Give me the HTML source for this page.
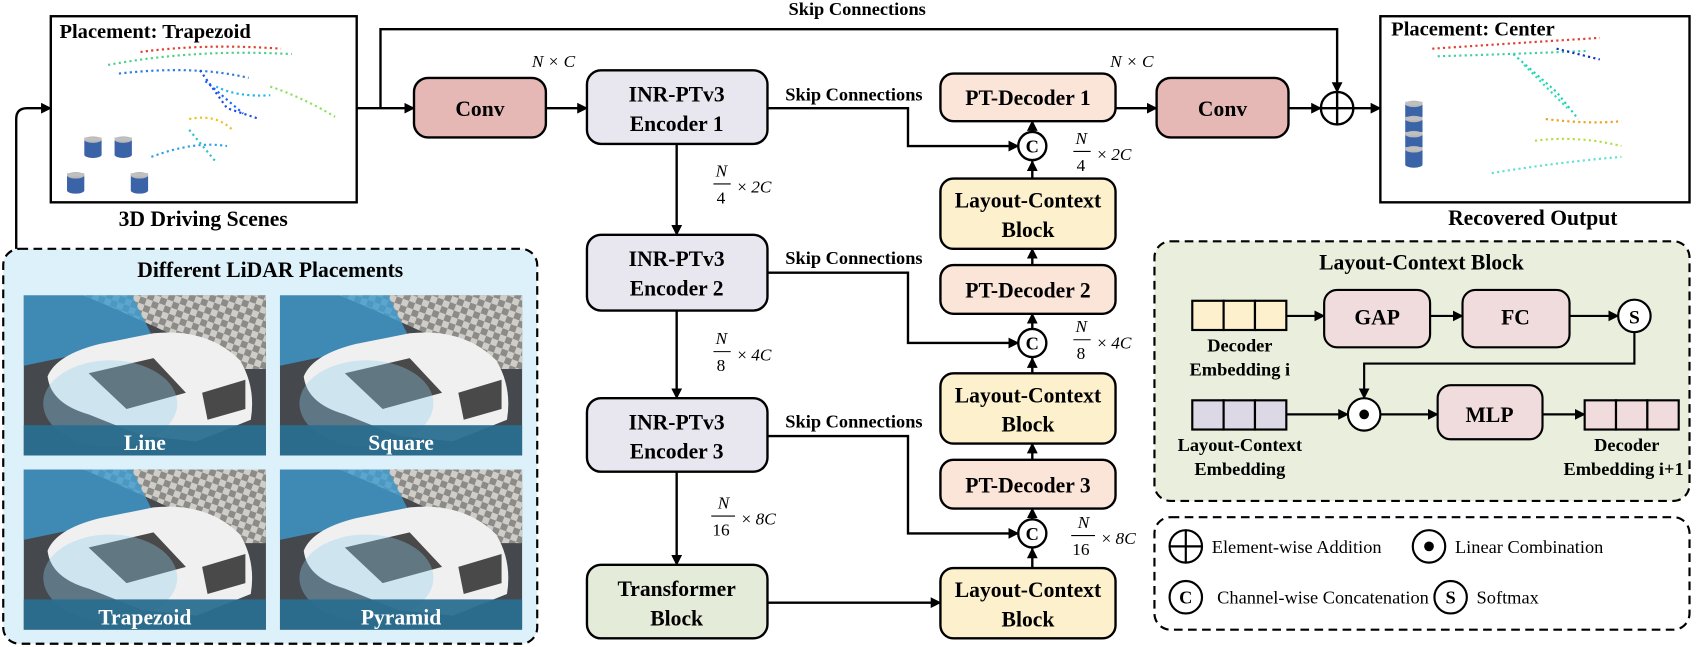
<!DOCTYPE html>
<html><head><meta charset="utf-8"><style>
html,body{margin:0;padding:0;background:#fff;}
svg{display:block;}
text{font-family:"Liberation Serif",serif;}
.b{font-weight:bold;font-size:20px;text-anchor:middle;}
.m{font-style:italic;font-size:16px;}
.n{font-size:17px;}
</style></head><body>
<svg width="1696" height="647" viewBox="0 0 1569 598" preserveAspectRatio="none" xmlns="http://www.w3.org/2000/svg">
<defs>
<marker id="a" markerWidth="10" markerHeight="10" refX="9" refY="5" orient="auto" markerUnits="userSpaceOnUse"><path d="M0,0 L10,5 L0,10 z" fill="#000"/></marker>
<pattern id="chk" width="12" height="12" patternUnits="userSpaceOnUse" patternTransform="rotate(20)"><rect width="12" height="12" fill="#8d8b88"/><rect width="6" height="6" fill="#cfcdc8"/><rect x="6" y="6" width="6" height="6" fill="#cfcdc8"/></pattern>
<g id="tile">
<rect x="0" y="0" width="224" height="148" fill="#45484c"/>
<path d="M55,0 L224,0 L224,68 L200,68 Q150,40 55,0 Z" fill="url(#chk)"/>
<path d="M0,0 L100,0 L120,40 L0,65 Z" fill="#3d9bd0" opacity="0.8"/>
<path d="M22,75 Q30,55 70,45 L120,35 Q170,30 200,60 Q215,85 210,115 L160,135 L110,130 L60,110 Q25,100 22,75 Z" fill="#f0f0f0"/>
<path d="M60,72 L120,58 L150,90 L95,105 Z" fill="#2b2b2b" opacity="0.85"/>
<path d="M165,90 L205,78 L205,105 L170,115 Z" fill="#2b2b2b" opacity="0.85"/>
<ellipse cx="80" cy="100" rx="62" ry="40" fill="#8fd0f0" opacity="0.35"/>
<rect x="0" y="120" width="224" height="28" fill="#2a6e8f" opacity="0.95"/>
</g>
<g id="cyl"><rect x="0" y="4" width="16" height="14" fill="#3b63a8"/><ellipse cx="8" cy="18" rx="8" ry="3" fill="#3b63a8"/><ellipse cx="8" cy="4" rx="8" ry="3" fill="#b8b8b8"/><rect x="0" y="2" width="16" height="3" fill="#c0c0c0"/></g>
</defs>

<text x="793" y="14" class="b" style="font-size:17px">Skip Connections</text>
<polyline points="330,100 383,100" fill="none" stroke="#000" stroke-width="2.2" marker-end="url(#a)"/>
<polyline points="352,100 352,27 1237,27 1237,85" fill="none" stroke="#000" stroke-width="2.2" marker-end="url(#a)"/>

<rect x="47" y="15" width="283" height="172" fill="#fff" stroke="#000" stroke-width="2.2"/>
<text x="55" y="35" style="font-weight:bold;font-size:19px">Placement: Trapezoid</text>
<g fill="none" stroke-width="2" stroke-dasharray="2 3">
<path d="M100,60 Q180,45 270,50" stroke="#4fd08a"/>
<path d="M130,48 Q190,40 260,45" stroke="#e04030"/>
<path d="M110,68 Q180,60 230,72" stroke="#2a7de0"/>
<path d="M185,65 L210,100 L240,110" stroke="#1a4fe0"/>
<path d="M190,75 L225,105" stroke="#1a60ff"/>
<path d="M200,80 Q220,90 250,88" stroke="#20b8e8"/>
<path d="M175,110 Q200,105 215,120" stroke="#f0c020"/>
<path d="M140,145 Q180,130 210,135" stroke="#30a0e0"/>
<path d="M175,120 L200,150" stroke="#30c0d0"/>
<path d="M250,80 Q280,90 310,108" stroke="#90e060"/>
</g>
<use href="#cyl" x="78" y="125"/><use href="#cyl" x="106" y="125"/><use href="#cyl" x="62" y="158"/><use href="#cyl" x="121" y="158"/>
<text x="188" y="209" class="b">3D Driving Scenes</text>

<path d="M15,230 L15,110 Q15,100 25,100 L47,100" fill="none" stroke="#000" stroke-width="2.2" marker-end="url(#a)"/>

<rect x="3" y="230" width="494" height="365" rx="15" fill="#ddf1fb" stroke="#000" stroke-width="2" stroke-dasharray="8 5"/>
<text x="250" y="256" class="b">Different LiDAR Placements</text>
<use href="#tile" x="22" y="273"/><use href="#tile" x="259" y="273"/>
<use href="#tile" x="22" y="434"/><use href="#tile" x="259" y="434"/>
<g fill="#fff" font-weight="bold" font-size="20" text-anchor="middle" style="font-family:'Liberation Sans',sans-serif">
<text x="134" y="416">Line</text><text x="371" y="416">Square</text>
<text x="134" y="577">Trapezoid</text><text x="371" y="577">Pyramid</text></g>

<rect x="383" y="72" width="122" height="55" rx="13" fill="#e6b8b5" stroke="#000" stroke-width="2.2"/>
<text x="444" y="107" class="b">Conv</text>
<line x1="505" y1="100" x2="543" y2="100" stroke="#000" stroke-width="2.2" marker-end="url(#a)"/>
<text x="492" y="62" class="m">N × C</text>

<g stroke="#000" stroke-width="2.2">
<rect x="543" y="65" width="167" height="68" rx="13" fill="#e8e6ef"/>
<rect x="543" y="217" width="167" height="70" rx="13" fill="#e8e6ef"/>
<rect x="543" y="368" width="167" height="68" rx="13" fill="#e8e6ef"/>
<rect x="543" y="522" width="167" height="68" rx="13" fill="#e4ecd9"/>
</g>
<text x="626" y="94" class="b">INR-PTv3</text><text x="626" y="121" class="b">Encoder 1</text>
<text x="626" y="246" class="b">INR-PTv3</text><text x="626" y="273" class="b">Encoder 2</text>
<text x="626" y="397" class="b">INR-PTv3</text><text x="626" y="424" class="b">Encoder 3</text>
<text x="626" y="551" class="b">Transformer</text><text x="626" y="578" class="b">Block</text>
<g stroke="#000" stroke-width="2.2" fill="none" marker-end="url(#a)">
<line x1="626" y1="133" x2="626" y2="217"/>
<line x1="626" y1="287" x2="626" y2="368"/>
<line x1="626" y1="436" x2="626" y2="522"/>
<line x1="710" y1="557" x2="870" y2="557"/>
<polyline points="710,100 840,100 840,135 942,135"/>
<polyline points="710,252 840,252 840,317 942,317"/>
<polyline points="710,403 840,403 840,493 942,493"/>
<line x1="955" y1="525" x2="955" y2="507"/>
<line x1="955" y1="480" x2="955" y2="470"/>
<line x1="955" y1="425" x2="955" y2="410"/>
<line x1="955" y1="345" x2="955" y2="331"/>
<line x1="955" y1="304" x2="955" y2="290"/>
<line x1="955" y1="245" x2="955" y2="230"/>
<line x1="955" y1="165" x2="955" y2="149"/>
<line x1="955" y1="122" x2="955" y2="112"/>
<line x1="1032" y1="100" x2="1070" y2="100"/>
<line x1="1192" y1="100" x2="1222" y2="100"/>
<line x1="1252" y1="100" x2="1277" y2="100"/>
</g>
<text x="790" y="93" class="b" style="font-size:17px">Skip Connections</text>
<text x="790" y="244" class="b" style="font-size:17px">Skip Connections</text>
<text x="790" y="395" class="b" style="font-size:17px">Skip Connections</text>
<g font-size="16" font-style="italic">
<text x="662" y="163">N</text><line x1="660" y1="170" x2="676" y2="170" stroke="#000"/><text x="663" y="188" font-style="normal">4</text><text x="682" y="178"><tspan font-style="normal">×</tspan> 2C</text>
<text x="662" y="318">N</text><line x1="660" y1="325" x2="676" y2="325" stroke="#000"/><text x="663" y="343" font-style="normal">8</text><text x="682" y="333"><tspan font-style="normal">×</tspan> 4C</text>
<text x="664" y="470">N</text><line x1="658" y1="477" x2="680" y2="477" stroke="#000"/><text x="659" y="495" font-style="normal">16</text><text x="686" y="485"><tspan font-style="normal">×</tspan> 8C</text>
<text x="995" y="133">N</text><line x1="993" y1="140" x2="1009" y2="140" stroke="#000"/><text x="996" y="158" font-style="normal">4</text><text x="1015" y="148"><tspan font-style="normal">×</tspan> 2C</text>
<text x="995" y="307">N</text><line x1="993" y1="314" x2="1009" y2="314" stroke="#000"/><text x="996" y="332" font-style="normal">8</text><text x="1015" y="322"><tspan font-style="normal">×</tspan> 4C</text>
<text x="997" y="488">N</text><line x1="991" y1="495" x2="1013" y2="495" stroke="#000"/><text x="992" y="513" font-style="normal">16</text><text x="1019" y="503"><tspan font-style="normal">×</tspan> 8C</text>
</g>

<g stroke="#000" stroke-width="2.2">
<rect x="870" y="68" width="162" height="44" rx="12" fill="#fbe5d8"/>
<rect x="870" y="165" width="162" height="65" rx="12" fill="#fdf0cc"/>
<rect x="870" y="245" width="162" height="45" rx="12" fill="#fbe5d8"/>
<rect x="870" y="345" width="162" height="65" rx="12" fill="#fdf0cc"/>
<rect x="870" y="425" width="162" height="45" rx="12" fill="#fbe5d8"/>
<rect x="870" y="525" width="162" height="65" rx="12" fill="#fdf0cc"/>
<circle cx="955" cy="135" r="13" fill="#fff"/><circle cx="955" cy="317" r="13" fill="#fff"/><circle cx="955" cy="493" r="13" fill="#fff"/>
</g>
<text x="951" y="97" class="b">PT-Decoder 1</text>
<text x="951" y="192" class="b">Layout-Context</text><text x="951" y="219" class="b">Block</text>
<text x="951" y="275" class="b">PT-Decoder 2</text>
<text x="951" y="372" class="b">Layout-Context</text><text x="951" y="399" class="b">Block</text>
<text x="951" y="455" class="b">PT-Decoder 3</text>
<text x="951" y="552" class="b">Layout-Context</text><text x="951" y="579" class="b">Block</text>
<text x="955" y="141" class="b" style="font-size:17px">C</text><text x="955" y="323" class="b" style="font-size:17px">C</text><text x="955" y="499" class="b" style="font-size:17px">C</text>

<text x="1027" y="62" class="m">N × C</text>
<rect x="1070" y="72" width="122" height="55" rx="13" fill="#e6b8b5" stroke="#000" stroke-width="2.2"/>
<text x="1131" y="107" class="b">Conv</text>
<circle cx="1237" cy="100" r="15" fill="#fff" stroke="#000" stroke-width="2.2"/>
<path d="M1222,100 H1252 M1237,85 V115" stroke="#000" stroke-width="2.2"/>

<rect x="1277" y="15" width="286" height="172" fill="#fff" stroke="#000" stroke-width="2.2"/>
<text x="1287" y="33" style="font-weight:bold;font-size:19px">Placement: Center</text>
<g fill="none" stroke-width="2" stroke-dasharray="2 3">
<path d="M1325,45 Q1400,40 1480,35" stroke="#e04030"/>
<path d="M1330,52 Q1400,50 1470,47" stroke="#40d0a0"/>
<path d="M1400,50 L1440,85 L1460,110" stroke="#20d0c0"/>
<path d="M1410,60 L1450,100" stroke="#30e0b0"/>
<path d="M1440,45 L1480,55" stroke="#1030c0"/>
<path d="M1430,110 Q1470,115 1500,112" stroke="#f0a020"/>
<path d="M1420,130 Q1460,125 1500,135" stroke="#b0e040"/>
<path d="M1380,160 Q1440,150 1500,145" stroke="#60e0d0"/>
</g>
<use href="#cyl" x="1300" y="92"/><use href="#cyl" x="1300" y="106"/><use href="#cyl" x="1300" y="120"/><use href="#cyl" x="1300" y="134"/>
<text x="1418" y="208" class="b">Recovered Output</text>

<rect x="1068" y="223" width="495" height="240" rx="15" fill="#e9efdc" stroke="#000" stroke-width="2" stroke-dasharray="8 5"/>
<text x="1315" y="249" class="b">Layout-Context Block</text>
<g stroke="#000" stroke-width="2">
<rect x="1103" y="278" width="29" height="27" fill="#fdf0cc"/><rect x="1132" y="278" width="29" height="27" fill="#fdf0cc"/><rect x="1161" y="278" width="29" height="27" fill="#fdf0cc"/>
<rect x="1103" y="370" width="29" height="27" fill="#dcd8e6"/><rect x="1132" y="370" width="29" height="27" fill="#dcd8e6"/><rect x="1161" y="370" width="29" height="27" fill="#dcd8e6"/>
<rect x="1466" y="370" width="29" height="27" fill="#f0dcdc"/><rect x="1495" y="370" width="29" height="27" fill="#f0dcdc"/><rect x="1524" y="370" width="29" height="27" fill="#f0dcdc"/>
<rect x="1225" y="268" width="98" height="53" rx="12" fill="#f0dcdc"/>
<rect x="1353" y="268" width="99" height="53" rx="12" fill="#f0dcdc"/>
<rect x="1330" y="356" width="97" height="50" rx="12" fill="#f0dcdc"/>
<circle cx="1512" cy="292" r="15" fill="#fff"/>
<circle cx="1262" cy="383" r="15" fill="#fff"/>
</g>
<circle cx="1262" cy="383" r="4.5" fill="#000"/>
<g stroke="#000" stroke-width="2" fill="none" marker-end="url(#a)">
<line x1="1190" y1="292" x2="1225" y2="292"/>
<line x1="1323" y1="292" x2="1353" y2="292"/>
<line x1="1452" y1="292" x2="1497" y2="292"/>
<polyline points="1512,307 1512,336 1262,336 1262,368"/>
<line x1="1190" y1="383" x2="1247" y2="383"/>
<line x1="1277" y1="383" x2="1330" y2="383"/>
<line x1="1427" y1="383" x2="1466" y2="383"/>
</g>
<text x="1274" y="300" class="b">GAP</text><text x="1402" y="300" class="b">FC</text>
<text x="1512" y="299" class="b" style="font-size:18px">S</text>
<text x="1378" y="390" class="b">MLP</text>
<text x="1147" y="325" class="b" style="font-size:17px">Decoder</text><text x="1147" y="347" class="b" style="font-size:17px">Embedding i</text>
<text x="1147" y="417" class="b" style="font-size:17px">Layout-Context</text><text x="1147" y="439" class="b" style="font-size:17px">Embedding</text>
<text x="1505" y="417" class="b" style="font-size:17px">Decoder</text><text x="1502" y="439" class="b" style="font-size:17px">Embedding i+1</text>

<rect x="1068" y="478" width="495" height="104" rx="15" fill="#fff" stroke="#000" stroke-width="2" stroke-dasharray="8 5"/>
<circle cx="1097" cy="505" r="15" fill="#fff" stroke="#000" stroke-width="2"/>
<path d="M1082,505 H1112 M1097,490 V520" stroke="#000" stroke-width="2"/>
<text x="1121" y="511" class="n">Element-wise Addition</text>
<circle cx="1322" cy="505" r="15" fill="#fff" stroke="#000" stroke-width="2"/><circle cx="1322" cy="505" r="4.5"/>
<text x="1346" y="511" class="n">Linear Combination</text>
<circle cx="1097" cy="552" r="15" fill="#fff" stroke="#000" stroke-width="2"/>
<text x="1097" y="558" class="b" style="font-size:17px">C</text>
<text x="1126" y="558" class="n">Channel-wise Concatenation</text>
<circle cx="1342" cy="552" r="15" fill="#fff" stroke="#000" stroke-width="2"/>
<text x="1342" y="558" class="b" style="font-size:17px">S</text>
<text x="1366" y="558" class="n">Softmax</text>
</svg>
</body></html>
